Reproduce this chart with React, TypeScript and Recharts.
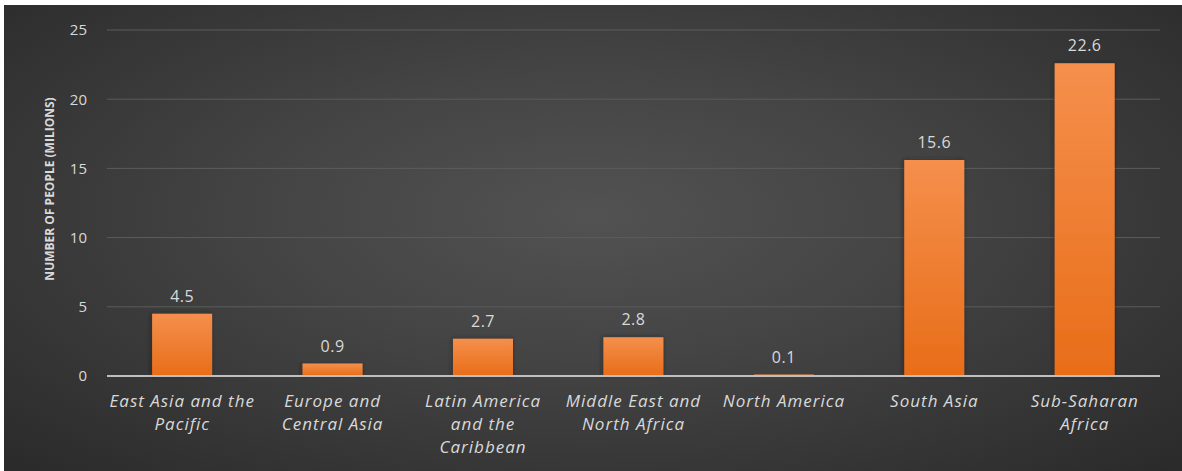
import React from "react";
import { BarChart, Bar, XAxis, YAxis, CartesianGrid, LabelList } from "recharts";

const regions = [
  "East Asia and the Pacific",
  "Europe and Central Asia",
  "Latin America and the Caribbean",
  "Middle East and North Africa",
  "North America",
  "South Asia",
  "Sub-Saharan Africa",
];

// how each region name breaks under its bar
const regionLines = [
  ["East Asia and the", "Pacific"],
  ["Europe and", "Central Asia"],
  ["Latin America", "and the", "Caribbean"],
  ["Middle East and", "North Africa"],
  ["North America"],
  ["South Asia"],
  ["Sub-Saharan", "Africa"],
];

// number of people, in millions
const people = [4.5, 0.9, 2.7, 2.8, 0.1, 15.6, 22.6];

const yTicks = [0, 5, 10, 15, 20, 25];

const chartData = regions.map((region, i) => ({ region, people: people[i] }));

const TEXT = "#d9d9d9";
const FONT = "'Open Sans', 'Noto Sans', sans-serif";

const RegionTick = (props: any) => {
  const { x, y, payload } = props;
  const lines = regionLines[regions.indexOf(payload.value)] || [payload.value];
  return (
    <g transform={`translate(${x},${y})`}>
      <text
        textAnchor="middle"
        fill={TEXT}
        fontSize={17}
        letterSpacing={1}
        fontStyle="italic"
        fontFamily={FONT}
      >
        {lines.map((line: string, i: number) => (
          <tspan key={i} x={0} y={31 + i * 23}>
            {line}
          </tspan>
        ))}
      </text>
    </g>
  );
};

const AxisTitle = (props: any) => {
  const { x, y, height } = props.viewBox;
  const cx = x + 49;
  const cy = y + height / 2 - 14;
  return (
    <text
      x={cx}
      y={cy}
      transform={`rotate(-90, ${cx}, ${cy})`}
      textAnchor="middle"
      dominantBaseline="central"
      fill={TEXT}
      fontSize={12}
      fontWeight={700}
      fontFamily={FONT}
    >
      NUMBER OF PEOPLE (MILIONS)
    </text>
  );
};

const App: React.FC = () => {
  return (
    <div
      style={{
        position: "absolute",
        left: 0,
        top: 0,
        width: 1182,
        height: 471,
        background: "#ffffff",
        overflow: "hidden",
      }}
    >
      <div
        style={{
          position: "absolute",
          left: 4,
          top: 5,
          right: 0,
          bottom: 0,
          background:
            "radial-gradient(ellipse at 50% 45%, #525252 0%, #444444 40%, #2a2a2a 100%)",
        }}
      />
      <div style={{ position: "absolute", left: 0, top: 0 }}>
        <BarChart
          width={1182}
          height={471}
          data={chartData}
          margin={{ top: 30, right: 22, bottom: 15, left: 0 }}
          barCategoryGap="30%"
        >
          <defs>
            <linearGradient id="barFill" x1="0" y1="0" x2="0" y2="1">
              <stop offset="0%" stopColor="#f58f4c" />
              <stop offset="100%" stopColor="#e86d18" />
            </linearGradient>
            <filter id="barShadow" x="-20%" y="-10%" width="140%" height="120%">
              <feDropShadow dx="-1" dy="0" stdDeviation="2" floodColor="#1a1a1a" floodOpacity="0.6" />
            </filter>
          </defs>
          <CartesianGrid vertical={false} stroke="#5c5c5c" strokeWidth={1} />
          <XAxis
            dataKey="region"
            height={80}
            interval={0}
            tickLine={false}
            tickSize={0}
            tickMargin={0}
            axisLine={{ stroke: "#bfbfbf", strokeWidth: 2 }}
            tick={<RegionTick />}
          />
          <YAxis
            width={107}
            domain={[0, 25]}
            ticks={yTicks}
            tickLine={false}
            axisLine={false}
            tickSize={0}
            tickMargin={20}
            tick={{ fill: TEXT, fontSize: 15, fontFamily: FONT }}
            label={{ content: <AxisTitle /> }}
          />
          <Bar
            dataKey="people"
            fill="url(#barFill)"
            filter="url(#barShadow)"
            isAnimationActive={false}
          >
            <LabelList
              dataKey="people"
              position="top"
              offset={12}
              fill={TEXT}
              fontSize={16}
              letterSpacing={0.5}
              fontFamily={FONT}
            />
          </Bar>
        </BarChart>
      </div>
    </div>
  );
};

export default App;
